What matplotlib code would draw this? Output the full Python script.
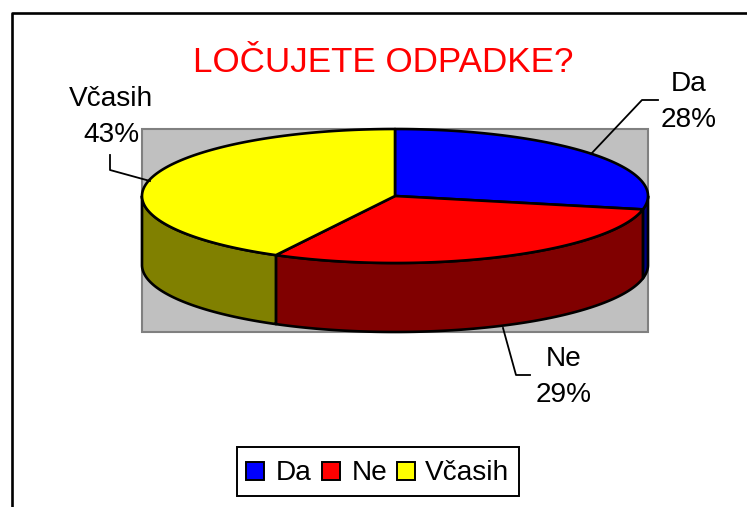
import numpy as np
import matplotlib
matplotlib.use("Agg")
import matplotlib.pyplot as plt
from matplotlib.patches import Polygon, Rectangle

categories = ["Da", "Ne", "Včasih"]
shares = [28.2, 29.6, 42.2]
percent_labels = ["28%", "29%", "43%"]
top_colors = ["#0000FF", "#FF0000", "#FFFF00"]
side_colors = ["#000080", "#800000", "#808000"]
title = "LOČUJETE ODPADKE?"

W, H = 747, 507
CX, CY, RX, RY, DEPTH = 395, 196, 253, 67, 69

plt.rcParams["font.family"] = ["Liberation Sans", "DejaVu Sans"]
fig = plt.figure(figsize=(W / 100, H / 100), dpi=100)
ax = fig.add_axes([0, 0, 1, 1])
ax.set_xlim(0, W)
ax.set_ylim(H, 0)
ax.axis("off")


def rim(a0, a1):
    t = np.radians(np.linspace(a0, a1, max(int(abs(a1 - a0) * 2), 2)))
    return CX + RX * np.sin(t), CY - RY * np.cos(t)


# outer frame (open on the right and bottom, cut by the image edge)
ax.plot([11.5, 11.5, W + 2], [H + 2, 12.5, 12.5], color="black", lw=1.9, clip_on=True)

# plot area
ax.add_patch(Rectangle((142, 129), 506, 203, fc="#C0C0C0", ec="#808080", lw=1.5, zorder=1))

# slices
bounds = np.concatenate([[0], np.cumsum(shares)]) / sum(shares) * 360
# side walls: only the front half of the rim (90..270 degrees) is visible
for i in range(len(shares)):
    a0, a1 = max(bounds[i], 90), min(bounds[i + 1], 270)
    if a1 <= a0:
        continue
    x, y = rim(a0, a1)
    xs = np.concatenate([x, x[::-1]])
    ys = np.concatenate([y, y[::-1] + DEPTH])
    ax.add_patch(Polygon(np.column_stack([xs, ys]), closed=True, fc=side_colors[i], ec="black", lw=1.9, zorder=2, joinstyle="round"))

for i in range(len(shares)):
    x, y = rim(bounds[i], bounds[i + 1])
    ax.add_patch(Polygon(np.column_stack([np.r_[CX, x], np.r_[CY, y]]), closed=True, fc=top_colors[i], ec="black", lw=1.9, zorder=3, joinstyle="round"))

# title
ax.text(383, 62, title, color="#FF0000", fontsize=25.2, ha="center", va="center", zorder=5)

# data labels with leader lines
label_pos = [(689, 102), (564, 377), (111, 117)]
leaders = [[(591, 154), (642, 100), (658, 100)],
           [(503, 328), (516, 375), (530, 375)],
           [(150, 181), (110, 170), (110, 155)]]
for i, cat in enumerate(categories):
    ax.text(*label_pos[i], f"{cat}\n{percent_labels[i]}", ha="center", va="center", fontsize=20.2, color="black", linespacing=1.48, zorder=5)
    lx, ly = zip(*leaders[i])
    ax.plot(lx, ly, color="black", lw=1.3, zorder=4)

# legend
ax.add_patch(Rectangle((237, 447), 282, 49, fc="white", ec="black", lw=1.4, zorder=4))
sw = [246, 322, 397]
tx = [276, 352, 425]
for i, cat in enumerate(categories):
    ax.add_patch(Rectangle((sw[i], 462), 18, 18, fc=top_colors[i], ec="black", lw=1.4, zorder=5))
    ax.text(tx[i], 473, cat, fontsize=20.2, ha="left", va="center", zorder=5)

fig.savefig("out.png", dpi=100)
